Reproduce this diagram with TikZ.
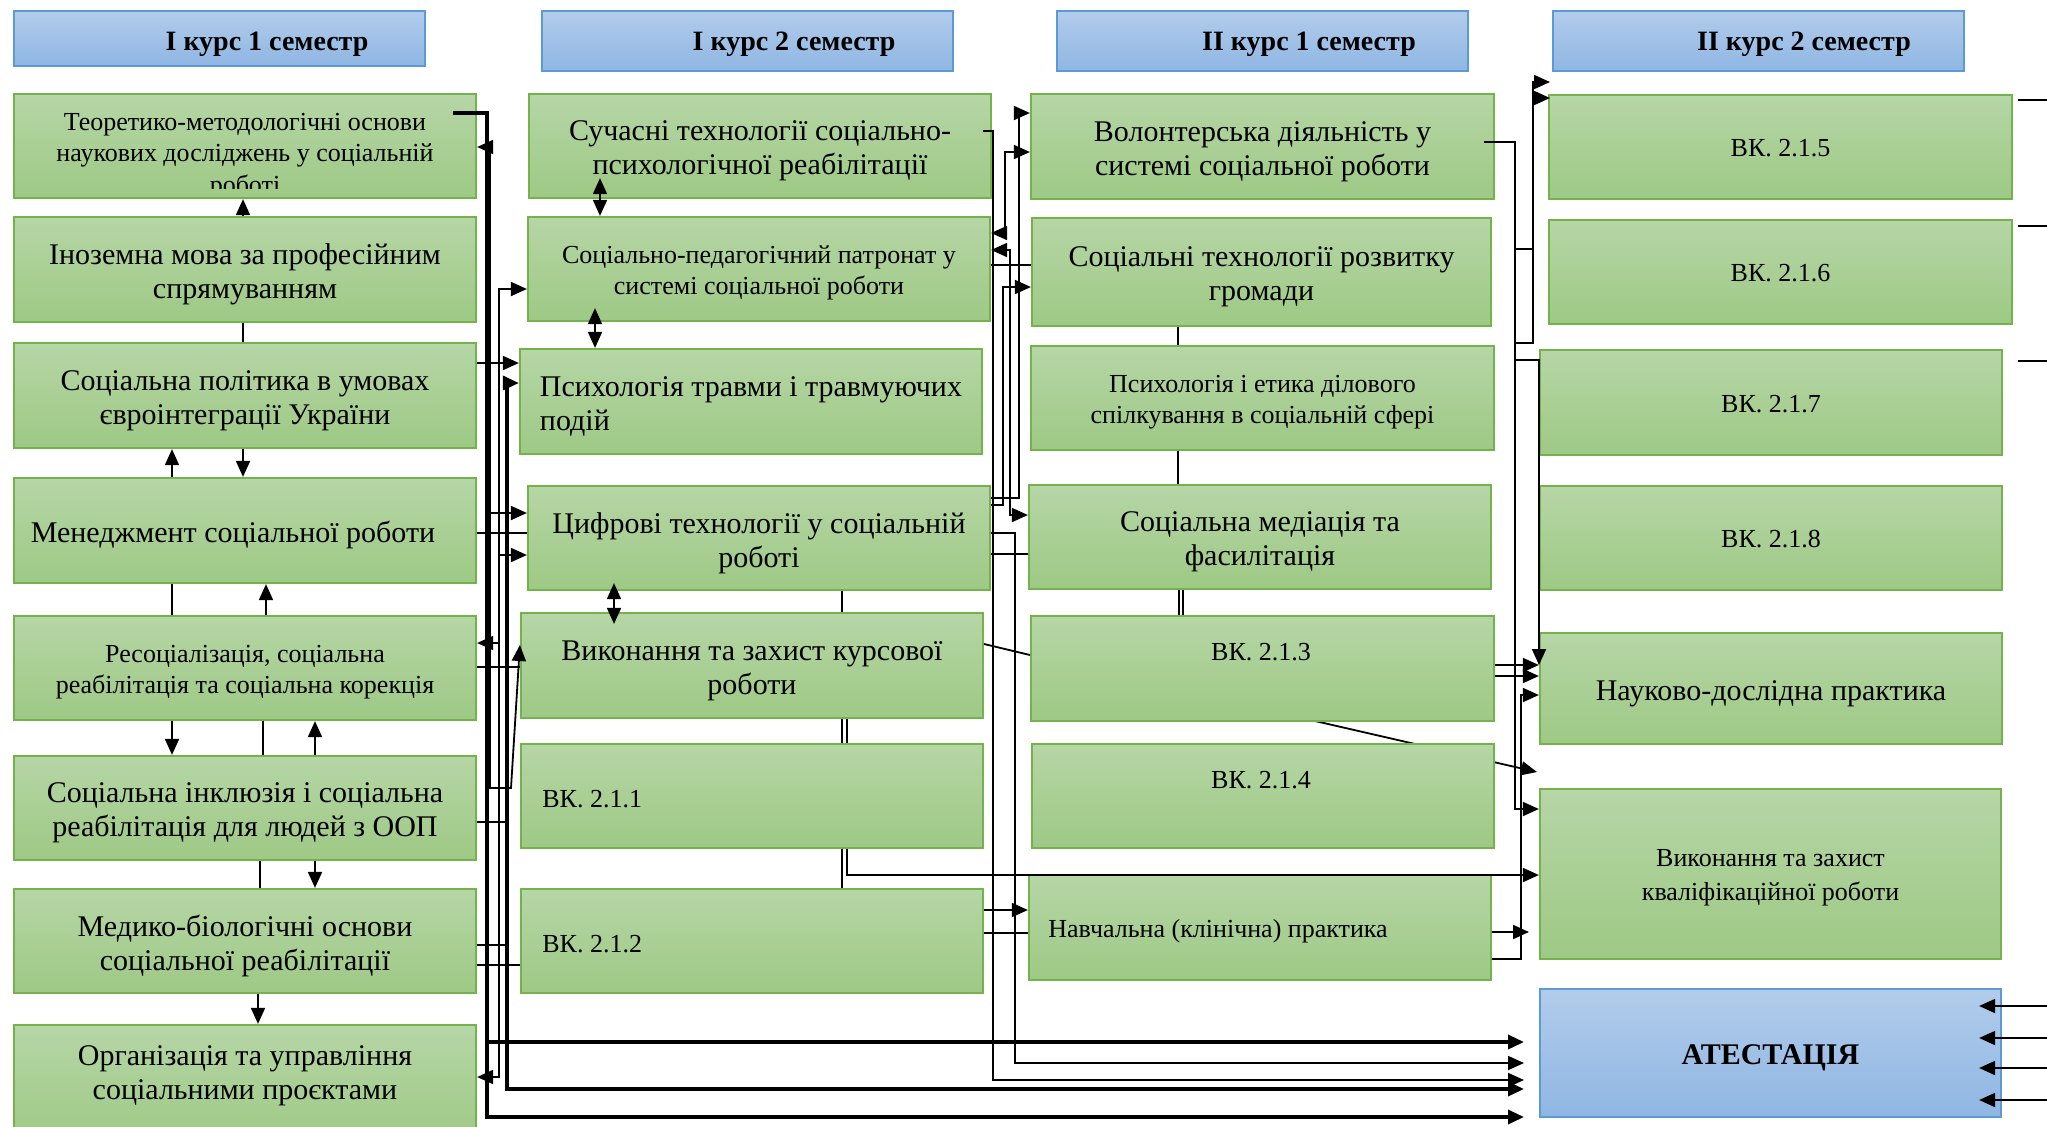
\documentclass[tikz,border=0pt]{standalone}
\usepackage{fontspec}
\setmainfont{Liberation Serif}
\usetikzlibrary{arrows.meta,calc}
\definecolor{gtop}{RGB}{182,214,166}
\definecolor{gbot}{RGB}{158,201,133}
\definecolor{gbrd}{RGB}{116,178,76}
\definecolor{btop}{RGB}{178,204,235}
\definecolor{bbot}{RGB}{143,182,227}
\definecolor{bbrd}{RGB}{91,155,213}
\tikzset{
 gbox/.style={draw=gbrd, line width=1.1pt, top color=gtop, bottom color=gbot, inner sep=0pt},
 bbox/.style={draw=bbrd, line width=1.1pt, top color=btop, bottom color=bbot, inner sep=0pt},
 txt/.style={inner sep=0pt, align=center},
 tbig/.style={txt, font=\fontsize{15}{17}\selectfont, yshift=-2.5pt},
 tsm/.style={txt, font=\fontsize{13}{15.7}\selectfont, yshift=-2pt},
 tvk/.style={txt, font=\fontsize{13}{15.7}\selectfont, yshift=-0.7pt},
 tkv/.style={txt, font=\fontsize{13}{17}\selectfont, yshift=-2pt},
 tat/.style={txt, font=\fontsize{15}{17}\selectfont\bfseries, yshift=-2.5pt},
 hdr/.style={inner sep=0pt, font=\fontsize{14}{16}\selectfont\bfseries},
 ln/.style={draw=black, line width=0.9pt},
 lnk/.style={draw=black, line width=1.7pt},
 arrR/.style={-{Triangle[length=8pt,width=7pt]}},
 arrB/.style={{Triangle[length=8pt,width=7pt]}-{Triangle[length=8pt,width=7pt]}},
}
% #1 box style, #2 text style, #3 name, #4-#7 x1 y1 x2 y2 (px), #8 text
\newcommand\mkbox[8]{%
 \pgfmathsetmacro\mkbw{(#6-#4)*0.5}%
 \pgfmathsetmacro\mkbh{(#7-#5)*0.5}%
 \node[#1, minimum width=\mkbw pt, minimum height=\mkbh pt] (#3) at ({(#4+#6)/2},{(#5+#7)/2}) {};
 \node[#2] (#3t) at (#3.center) {#8};}
\begin{document}
\begin{tikzpicture}[x=0.5pt,y=-0.5pt]
\clip (0,0) rectangle (2047,1126);
\fill[white] (0,0) rectangle (2047,1126);
% line hidden behind box ВК. 2.1.4
\coordinate (dg) at (1537,772);
\draw[ln,arrR] (1315,721) -- (dg);
% headers
\mkbox{bbox}{txt}{h1}{14}{11}{425}{66}{}
\mkbox{bbox}{txt}{h2}{542}{11}{953}{71}{}
\mkbox{bbox}{txt}{h3}{1057}{11}{1468}{71}{}
\mkbox{bbox}{txt}{h4}{1553}{11}{1964}{71}{}
\node[hdr] (th1) at (267,44) {І курс 1 семестр};
\node[hdr] (th2) at (794,44) {І курс 2 семестр};
\node[hdr] (th3) at (1309,44) {ІІ курс 1 семестр};
\node[hdr] (th4) at (1804,44) {ІІ курс 2 семестр};
% column 1
\mkbox{gbox}{txt}{a1}{14}{94}{476}{198}{}
\mkbox{gbox}{tbig}{a2}{14}{217}{476}{322}{Іноземна мова за професійним\\спрямуванням}
\mkbox{gbox}{tbig}{a3}{14}{343}{476}{448}{Соціальна політика в умовах\\євроінтеграції України}
\mkbox{gbox}{txt}{a4}{14}{478}{476}{583}{}
\node[tbig] (ta4) at (233,530) {Менеджмент соціальної роботи};
\mkbox{gbox}{tsm}{a5}{14}{616}{476}{720}{Ресоціалізація, соціальна\\реабілітація та соціальна корекція}
\mkbox{gbox}{tbig}{a6}{14}{756}{476}{860}{Соціальна інклюзія і соціальна\\реабілітація для людей з ООП}
\mkbox{gbox}{tbig}{a7}{14}{889}{476}{993}{Медико-біологічні основи\\соціальної реабілітації}
\mkbox{gbox}{txt}{a8}{14}{1025}{476}{1145}{}
\node[tbig] (ta8) at (245,1071) {Організація та управління\\соціальними проєктами};
\begin{scope}
\clip (14,94) rectangle (476,188);
\node[txt, font=\fontsize{13}{15.7}\selectfont] (ta1) at (245,156) {Теоретико-методологічні основи\\наукових досліджень у соціальній\\роботі};
\end{scope}
% column 2
\mkbox{gbox}{tbig}{b1}{529}{94}{991}{198}{Сучасні технології соціально-\\психологічної реабілітації}
\mkbox{gbox}{tsm}{b2}{528}{217}{990}{321}{Соціально-педагогічний патронат у\\системі соціальної роботи}
\mkbox{gbox}{tbig,align=left}{b3}{520}{349}{982}{454}{Психологія травми і травмуючих\\подій}
\mkbox{gbox}{tbig}{b4}{528}{486}{990}{590}{Цифрові технології у соціальній\\роботі}
\mkbox{gbox}{tbig}{b5}{521}{613}{983}{718}{Виконання та захист курсової\\роботи}
\mkbox{gbox}{txt}{b6}{521}{744}{983}{848}{}
\mkbox{gbox}{txt}{b7}{521}{889}{983}{993}{}
\node[txt, anchor=west, font=\fontsize{13}{15}\selectfont] (tb6) at (542,799) {ВК. 2.1.1};
\node[txt, anchor=west, font=\fontsize{13}{15}\selectfont] (tb7) at (542,944) {ВК. 2.1.2};
% column 3
\mkbox{gbox}{tbig}{c1}{1031}{94}{1494}{199}{Волонтерська діяльність у\\системі соціальної роботи}
\mkbox{gbox}{tbig}{c2}{1032}{218}{1491}{326}{Соціальні технології розвитку\\громади}
\mkbox{gbox}{tsm}{c3}{1031}{346}{1494}{450}{Психологія і етика ділового\\спілкування в соціальній сфері}
\mkbox{gbox}{tbig}{c4}{1029}{485}{1491}{589}{Соціальна медіація та\\фасилітація}
\mkbox{gbox}{txt}{c5}{1031}{616}{1494}{721}{}
\mkbox{gbox}{txt}{c6}{1032}{744}{1494}{848}{}
\mkbox{gbox}{txt}{c7}{1029}{875}{1491}{980}{}
\node[txt, font=\fontsize{13}{15}\selectfont] (tc5) at (1261,652) {ВК. 2.1.3};
\node[txt, font=\fontsize{13}{15}\selectfont] (tc6) at (1261,780) {ВК. 2.1.4};
\node[txt, anchor=west, font=\fontsize{13}{15}\selectfont] (tc7) at (1048,931) {Навчальна (клінічна) практика};
% column 4
\mkbox{gbox}{tvk}{d1}{1549}{95}{2012}{199}{ВК. 2.1.5}
\mkbox{gbox}{tvk}{d2}{1549}{220}{2012}{324}{ВК. 2.1.6}
\mkbox{gbox}{tvk}{d3}{1540}{350}{2002}{455}{ВК. 2.1.7}
\mkbox{gbox}{tvk}{d4}{1540}{486}{2002}{590}{ВК. 2.1.8}
\mkbox{gbox}{tbig}{d5}{1540}{633}{2002}{744}{Науково-дослідна практика}
\mkbox{gbox}{tkv}{d6}{1540}{789}{2001}{959}{Виконання та захист\\кваліфікаційної роботи}
\mkbox{bbox}{tat}{d7}{1540}{989}{2001}{1117}{АТЕСТАЦІЯ}
% free ends
\coordinate (s1) at (453,113);
\coordinate (s2) at (983,131);
\coordinate (s3) at (1484,142);
\coordinate (e1) at (1524,1042);
\coordinate (e2) at (1524,1063);
\coordinate (e3) at (1524,1080);
\coordinate (e4) at (1524,1089);
\coordinate (e5) at (1524,1117);
% column 1 internal
\draw[ln,arrR] (a2.north -| 243,0) -- (a1.south -| 243,0);
\draw[ln] (a2.south -| 243,0) -- (a3.north -| 243,0);
\draw[ln,arrR] (a4.north -| 172,0) -- (a3.south -| 172,0);
\draw[ln,arrR] (a3.south -| 243,0) -- (a4.north -| 243,0);
\draw[ln] (a4.south -| 172,0) -- (a5.north -| 172,0);
\draw[ln,arrR] (a5.north -| 266,0) -- (a4.south -| 266,0);
\draw[ln,arrR] (a5.south -| 172,0) -- (a6.north -| 172,0);
\draw[ln] (a5.south -| 263,0) -- (a6.north -| 263,0);
\draw[ln,arrR] (a6.north -| 315,0) -- (a5.south -| 315,0);
\draw[ln] (a6.south -| 260,0) -- (a7.north -| 260,0);
\draw[ln,arrR] (a6.south -| 315,0) -- (a7.north -| 315,0);
\draw[ln,arrR] (a7.south -| 258,0) -- (a8.north -| 258,0);
% column 2 internal
\draw[ln,arrB] ($(b1.south -| 600,0)+(0,-21)$) -- (b2.north -| 600,0);
\draw[ln,arrB] ($(b2.south -| 595,0)+(0,-14)$) -- (b3.north -| 595,0);
\draw[ln,arrB] ($(b4.south -| 614,0)+(0,-8)$) -- ($(b5.north -| 614,0)+(0,12)$);
\draw[ln] (b4.south -| 842,0) -- (b5.north -| 842,0);
\draw[ln] (b5.south -| 842,0) -- (b6.north -| 842,0);
\draw[ln] (b6.south -| 842,0) -- (b7.north -| 842,0);
% column 3 internal
\draw[ln] (c2.south -| 1178,0) -- (c3.north -| 1178,0);
\draw[ln] (c3.south -| 1178,0) -- (c4.north -| 1178,0);
\draw[ln] (c4.south -| 1179,0) -- (c5.north -| 1179,0);
\draw[ln] (c4.south -| 1183,0) -- (c5.north -| 1183,0);
% gap between column 1 and column 2
\draw[lnk,arrR] (s1) -| (487,1042) -- (e1);
\draw[lnk,arrR] (s1) -| (487,1117) -- (e5);
\draw[ln,arrB] (a1.east |- 0,147) -| (490,513) -- (b4.west |- 0,513);
\draw[ln,arrR] (490,513) |- (511,788) -- (b5.west |- 0,645);
\draw[ln,arrB] (b2.west |- 0,289) -| (499,1077) -- (a8.east |- 0,1077);
\draw[ln,arrR] (499,555) -- (b4.west |- 0,555);
\draw[ln,arrR] (499,643) -- (a5.east |- 0,643);
\draw[lnk,arrB] (b3.west |- 0,383) -| (507,1089) -- (e4);
\draw[ln] (a6.east |- 0,822) -- (507,822);
\draw[ln] (a7.east |- 0,945) -- (507,945);
\draw[ln,arrR] (a3.east |- 0,363) -- (b3.west |- 0,363);
\draw[ln] (a4.east |- 0,533) -- (b4.west |- 0,533);
\draw[ln] (a5.east |- 0,667) -- (b5.west |- 0,667);
\draw[ln] (a7.east |- 0,965) -- (b7.west |- 0,965);
% gap between column 2 and column 3
\draw[ln,arrR] (s2) -| (993,1080) -- (e3);
\draw[ln,arrR] (b4.east |- 0,498) -| (1019,113) -- (c1.west |- 0,113);
\draw[ln,arrB] (b2.east |- 0,233) -| (1005,152) -- (c1.west |- 0,152);
\draw[ln,arrB] (b2.east |- 0,250) -| (1010,515) -- (c4.west |- 0,515);
\draw[ln] (b2.east |- 0,265) -- (c2.west |- 0,265);
\draw[ln,arrR] (b4.east |- 0,505) -| (1003,287) -- (c2.west |- 0,287);
\draw[ln,arrR] (b4.east |- 0,533) -| (1015,1063) -- (e2);
\draw[ln] (b4.east |- 0,554) -- (c4.west |- 0,554);
\draw[ln] (b5.east |- 0,644) -- (c5.west |- 0,655);
\draw[ln] (b5.south -| 847,0) -- (b6.north -| 847,0);
\draw[ln,arrR] (b6.south -| 847,0) |- (d6.west |- 0,875);
\draw[ln,arrR] (b7.east |- 0,910) -- (c7.west |- 0,910);
\draw[ln] (b7.east |- 0,933) -- (c7.west |- 0,933);
% gap between column 3 and column 4
\draw[ln,arrR] (s3) -| (1515,809) -- (d6.west |- 0,809);
\draw[ln] (1515,249) -- (1533,249);
\draw[ln,arrR] (1515,343) -| (1533,82) -- (1550,82);
\draw[ln,arrR] (1533,98) -- (1550,98);
\draw[ln,arrR] (1515,360) -| (1539,665);
\draw[ln,arrR] (c5.east |- 0,665) -- (d5.west |- 0,665);
\draw[ln,arrR] (c5.east |- 0,676) -- (d5.west |- 0,676);
\draw[ln,arrR] (c7.east |- 0,959) -| (1521,695) -- (d5.west |- 0,695);
\draw[ln,arrR] (c7.east |- 0,932) -- (1529,932);
% right edge
\coordinate (r1) at (2050,100);
\coordinate (r2) at (2050,226);
\coordinate (r3) at (2050,361);
\draw[ln] ($(d1.east |- r1)+(5,0)$) -- (r1);
\draw[ln] ($(d2.east |- r2)+(5,0)$) -- (r2);
\draw[ln] ($(d3.east |- r3)+(15,0)$) -- (r3);
\coordinate (q1) at (2050,1006);
\coordinate (q2) at (2050,1038);
\coordinate (q3) at (2050,1068);
\coordinate (q4) at (2050,1100);
\draw[ln,arrR] (q1) -- ($(d7.east |- q1)+(-23,0)$);
\draw[ln,arrR] (q2) -- ($(d7.east |- q2)+(-23,0)$);
\draw[ln,arrR] (q3) -- ($(d7.east |- q3)+(-23,0)$);
\draw[ln,arrR] (q4) -- ($(d7.east |- q4)+(-23,0)$);
\end{tikzpicture}
\end{document}
